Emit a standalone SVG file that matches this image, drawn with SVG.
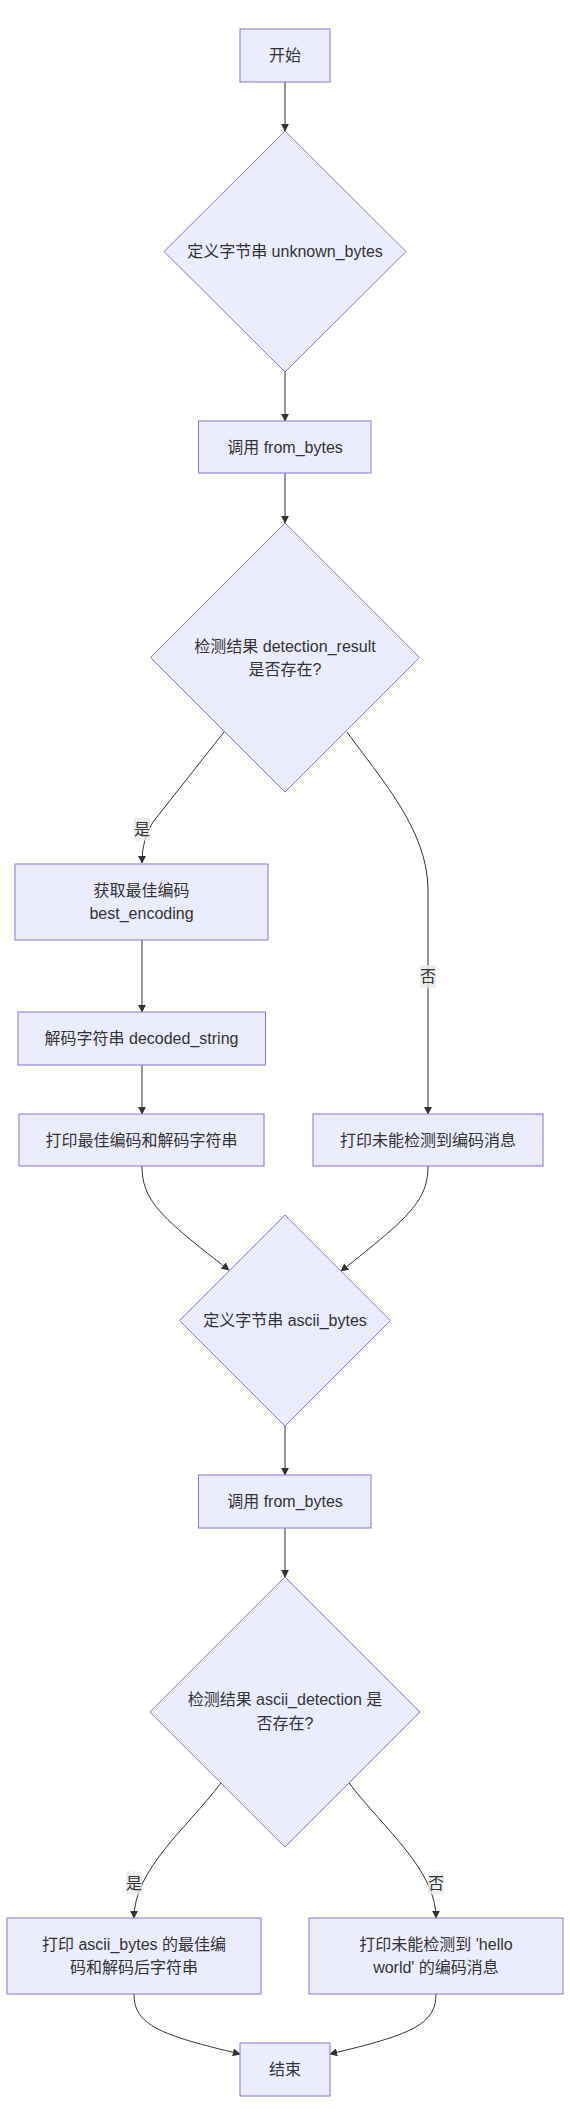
<svg xmlns="http://www.w3.org/2000/svg" width="570" height="2125" viewBox="0 0 570 2125">
<style>
.node rect,.node polygon{fill:#ECECFF;stroke:#9370DB;stroke-width:1px}
.node text{font-family:"Liberation Sans","Noto Sans CJK SC",sans-serif;font-size:16px;fill:#333;text-anchor:middle;dominant-baseline:central}
.edges path{fill:none;stroke:#333;stroke-width:1px}
.lbl rect{fill:#e8e8e8;opacity:0.8}
.lbl text{font-family:"Liberation Sans","Noto Sans CJK SC",sans-serif;font-size:16px;fill:#333;text-anchor:middle;dominant-baseline:central}
</style>
<defs>
<marker id="arr" viewBox="0 0 10 10" refX="9" refY="5" markerWidth="8" markerHeight="8" markerUnits="userSpaceOnUse" orient="auto">
<path d="M0,0 L10,5 L0,10 z" fill="#333"/>
</marker>
</defs>
<rect width="570" height="2125" fill="#fff"/>
<g class="edges">
<path d="M285,82 L285,131" marker-end="url(#arr)"/>
<path d="M285,372 L285,421" marker-end="url(#arr)"/>
<path d="M285,473 L285,523" marker-end="url(#arr)"/>
<path d="M224,732 L153,822 Q142,838 142,863" marker-end="url(#arr)"/>
<path d="M347,732 C380,778 428,830 428,890 L428,1114" marker-end="url(#arr)"/>
<path d="M142,940 L142,1012" marker-end="url(#arr)"/>
<path d="M142,1065 L142,1114" marker-end="url(#arr)"/>
<path d="M142,1166 C142,1200 160,1217 229,1270" marker-end="url(#arr)"/>
<path d="M428,1166 C428,1200 410,1217 341,1271" marker-end="url(#arr)"/>
<path d="M285,1426 L285,1475" marker-end="url(#arr)"/>
<path d="M285,1528 L285,1577" marker-end="url(#arr)"/>
<path d="M221,1783 C185,1830 134,1870 134,1918" marker-end="url(#arr)"/>
<path d="M349,1783 C385,1830 436,1870 436,1918" marker-end="url(#arr)"/>
<path d="M134,1994 C134,2025 160,2035 240,2054" marker-end="url(#arr)"/>
<path d="M436,1994 C436,2025 410,2035 330,2054" marker-end="url(#arr)"/>
</g>
<g class="lbl" id="label-d-yes"><rect x="134" y="817.5" width="16" height="23"/><text x="142" y="829">是</text></g>
<g class="lbl" id="label-d-no"><rect x="420" y="965" width="16" height="23"/><text x="428" y="976.5">否</text></g>
<g class="lbl" id="label-k-yes"><rect x="126" y="1871.5" width="16" height="23"/><text x="134" y="1883">是</text></g>
<g class="lbl" id="label-k-no"><rect x="428" y="1871.5" width="16" height="23"/><text x="436" y="1883">否</text></g>

<g class="node" id="start"><rect x="240" y="29" width="90" height="53"/><text x="285" y="55.5">开始</text></g>
<g class="node" id="defineUnknown"><polygon points="285,131 406,251.5 285,372 164,251.5"/><text x="285" y="251">定义字节串 unknown_bytes</text></g>
<g class="node" id="call1"><rect x="198.5" y="421" width="172.5" height="52"/><text x="285" y="447">调用 from_bytes</text></g>
<g class="node" id="check1"><polygon points="285,523 419.5,657.5 285,792 150.5,657.5"/><text x="285" y="646">检测结果 detection_result</text><text x="285" y="669">是否存在?</text></g>
<g class="node" id="bestEnc"><rect x="15" y="864" width="253" height="76"/><text x="141.5" y="890">获取最佳编码</text><text x="141.5" y="913">best_encoding</text></g>
<g class="node" id="decode"><rect x="18" y="1012" width="247.5" height="53"/><text x="141.5" y="1038.5">解码字符串 decoded_string</text></g>
<g class="node" id="print1"><rect x="19" y="1114" width="245" height="52"/><text x="141.5" y="1140">打印最佳编码和解码字符串</text></g>
<g class="node" id="noDetect1"><rect x="313" y="1114" width="230" height="52"/><text x="428" y="1140">打印未能检测到编码消息</text></g>
<g class="node" id="defineAscii"><polygon points="285,1215 390.5,1320.5 285,1426 179.5,1320.5"/><text x="285" y="1320.5">定义字节串 ascii_bytes</text></g>
<g class="node" id="call2"><rect x="198.5" y="1475" width="172.5" height="53"/><text x="285" y="1501.5">调用 from_bytes</text></g>
<g class="node" id="check2"><polygon points="285,1577 420,1712 285,1847 150,1712"/><text x="285" y="1699">检测结果 ascii_detection 是</text><text x="285" y="1723">否存在?</text></g>
<g class="node" id="print2"><rect x="7" y="1918" width="254" height="76"/><text x="134" y="1944">打印 ascii_bytes 的最佳编</text><text x="134" y="1967">码和解码后字符串</text></g>
<g class="node" id="noDetect2"><rect x="309" y="1918" width="254" height="76"/><text x="436" y="1944">打印未能检测到 'hello</text><text x="436" y="1967">world' 的编码消息</text></g>
<g class="node" id="end"><rect x="240" y="2043" width="90" height="53"/><text x="285" y="2069.5">结束</text></g>
</svg>
